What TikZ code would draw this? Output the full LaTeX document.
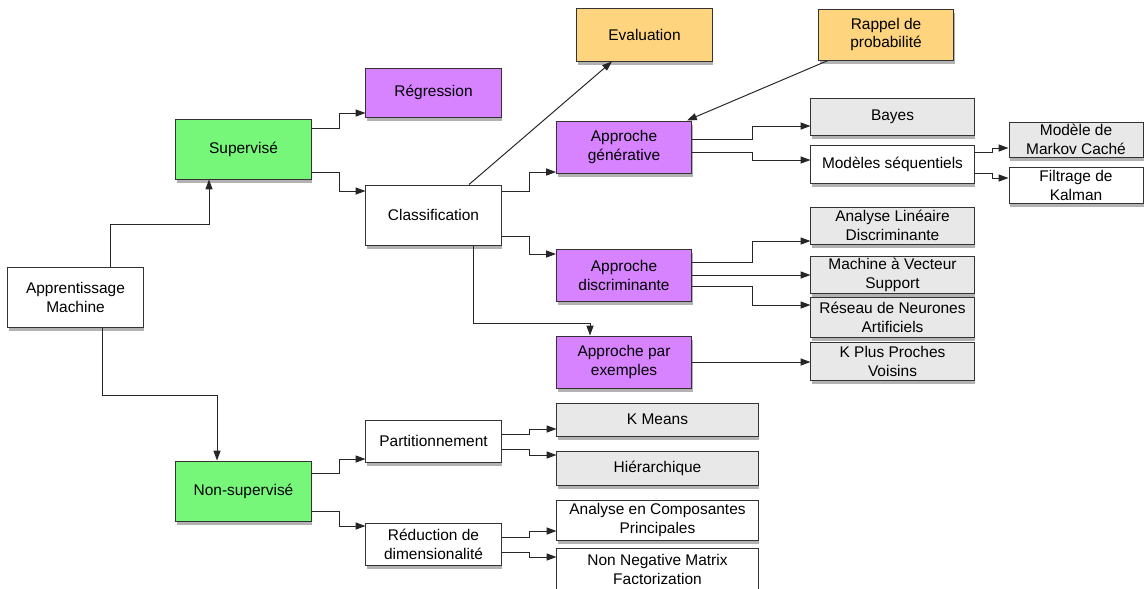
\documentclass[tikz,border=0pt]{standalone}
\usepackage{fontspec}
\setmainfont{Liberation Sans}
\usepackage{xcolor}
\usepackage{tikz}
\usetikzlibrary{arrows.meta,shadows}

\definecolor{supgreen}{HTML}{76F77A}
\definecolor{methpurple}{HTML}{D782FF}
\definecolor{noteorange}{HTML}{FED57E}
\definecolor{leafgray}{HTML}{E8E8E8}

\begin{document}
\begin{tikzpicture}[
  x=0.025cm, y=-0.025cm,
  box/.style={draw=black!80, fill=#1, line width=0.7pt, minimum width=3.375cm,
              minimum height=1.5cm, inner xsep=2pt, inner ysep=0pt, align=center,
              font=\fontsize{11}{13.5}\selectfont,
              drop shadow={shadow xshift=1pt, shadow yshift=-2.5pt, opacity=0.3, fill=black}},
  box/.default=white,
  leaf/.style={box=#1, minimum width=4.075cm, minimum height=0.925cm},
  leaf/.default=leafgray,
  wide/.style={box=#1, minimum width=5.025cm, minimum height=0.85cm},
  wide/.default=leafgray,
  arr/.style={-{Triangle[length=7pt,width=5pt]}, line width=0.7pt, black!85},
]
\useasboundingbox (0,0) rectangle (1144,588);
% Nodes
\node[box]                                  (am)      at (75.5,297.5) {Apprentissage\\Machine};
\node[box=supgreen]                         (sup)     at (243.5,149)  {Supervisé};
\node[box=supgreen]                         (nonsup)  at (243.5,491)  {Non-supervisé};
\node[box=methpurple, minimum height=1.225cm] (reg)   at (433.5,92.5) {Régression};
\node[box]                                  (classif) at (433.5,215)  {Classification};
\node[box, minimum height=1.05cm]           (part)    at (433.5,441)  {Partitionnement};
\node[box, minimum height=1.05cm]           (reduc)   at (433.5,544)  {Réduction de\\dimensionalité};
\node[box=noteorange, minimum height=1.325cm] (eval)  at (644.5,34.5) {Evaluation};
\node[box=noteorange, minimum height=1.275cm] (rappel) at (886,34.5)  {Rappel de\\probabilité};
\node[box=methpurple, minimum height=1.3cm] (gen)     at (624,147)    {Approche\\générative};
\node[box=methpurple, minimum height=1.3cm] (disc)    at (624,275)    {Approche\\discriminante};
\node[box=methpurple, minimum height=1.3cm] (exem)    at (624,362)    {Approche par\\exemples};
\node[leaf]                                 (bayes)   at (892.5,116.5) {Bayes};
\node[leaf=white, minimum height=0.95cm]    (seq)     at (892.5,164)  {Modèles séquentiels};
\node[box=leafgray, minimum height=0.875cm, minimum width=3.35cm] (markov) at (1076,139.5) {Modèle de\\Markov Caché};
\node[box, minimum height=0.9cm, minimum width=3.35cm] (kalman) at (1076,185) {Filtrage de\\Kalman};
\node[leaf]                                 (ald)     at (892.5,225.5) {Analyse Linéaire\\Discriminante};
\node[leaf]                                 (mvs)     at (892.5,274.5) {Machine à Vecteur\\Support};
\node[leaf, minimum height=1cm]             (rna)     at (892.5,317)  {Réseau de Neurones\\Artificiels};
\node[leaf, minimum height=0.95cm]          (kppv)    at (892.5,361)  {K Plus Proches\\Voisins};
\node[wide, minimum height=0.825cm]         (kmeans)  at (657.5,419.5) {K Means};
\node[wide]                                 (hier)    at (657.5,468)  {Hiérarchique};
\node[wide=white, minimum height=1cm]       (acp)     at (657.5,520)  {Analyse en Composantes\\Principales};
\node[wide=white, minimum height=1.05cm]    (nmf)     at (657.5,569)  {Non Negative Matrix\\Factorization};
% Arrows
\draw[arr] (am.north -| 110,0) -- (110,224) -| (sup.south -| 209,0);
\draw[arr] (am.south -| 102,0) -- (102,395) -| (nonsup.north -| 217,0);
\draw[arr] (sup.east |- 0,128) -- (339,128) |- (reg.west |- 0,113);
\draw[arr] (sup.east |- 0,172) -- (339,172) |- (classif.west |- 0,191);
\draw[arr] (classif.north -| 469,0) -- (eval.south -| 612,0);
\draw[arr] (rappel.south -| 828,0) -- (gen.north -| 687,0);
\draw[arr] (classif.east |- 0,191) -- (529,191) |- (gen.west |- 0,172);
\draw[arr] (classif.east |- 0,236) -- (529,236) |- (disc.west |- 0,254);
\draw[arr] (classif.south -| 473,0) -- (473,323) -| (exem.north -| 590,0);
\draw[arr] (gen.east |- 0,139) -- (752,139) |- (bayes.west |- 0,126);
\draw[arr] (gen.east |- 0,152) -- (752,152) |- (seq.west |- 0,160);
\draw[arr] (seq.east |- 0,152) -- (992,152) |- (markov.west |- 0,148);
\draw[arr] (seq.east |- 0,173) -- (992,173) |- (kalman.west |- 0,178);
\draw[arr] (disc.east |- 0,262) -- (752,262) |- (ald.west |- 0,241);
\draw[arr] (disc.east |- 0,275) -- (mvs.west |- 0,275);
\draw[arr] (disc.east |- 0,286) -- (752,286) |- (rna.west |- 0,305);
\draw[arr] (exem.east |- 0,362) -- (kppv.west |- 0,362);
\draw[arr] (nonsup.east |- 0,473) -- (339,473) |- (part.west |- 0,459);
\draw[arr] (nonsup.east |- 0,511) -- (339,511) |- (reduc.west |- 0,526);
\draw[arr] (part.east |- 0,434) -- (529,434) |- (kmeans.west |- 0,429);
\draw[arr] (part.east |- 0,449) -- (529,449) |- (hier.west |- 0,455);
\draw[arr] (reduc.east |- 0,537) -- (529,537) |- (acp.west |- 0,531);
\draw[arr] (reduc.east |- 0,552) -- (529,552) |- (nmf.west |- 0,557);
\end{tikzpicture}
\end{document}
